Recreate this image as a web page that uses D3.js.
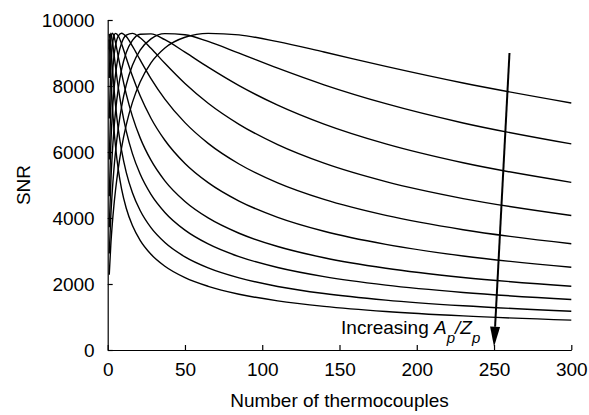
<!DOCTYPE html>
<html>
<head>
<meta charset="utf-8">
<script src="https://cdn.jsdelivr.net/npm/d3@7"></script>
<style>
  html, body { margin: 0; padding: 0; background: #fff; }
  svg { display: block; }
  text { font-family: "Liberation Sans", Arial, Helvetica, sans-serif; fill: #000; }
</style>
</head>
<body>
<svg id="chart" width="589" height="415"></svg>
<script>
// ---- data ----
const nValues = [1, 2, 3, 4, 5, 7, 9, 12, 16, 21, 28, 37, 50, 65, 85, 110, 140, 180, 230, 300];

const snr1  = [9411, 8325, 7417, 6731, 6198, 5420, 4877, 4297, 3771, 3324, 2901, 2538, 2193, 1930, 1691, 1489, 1322, 1167, 1033, 905];
const snr2  = [9582, 9222, 8559, 7957, 7445, 6642, 6044, 5385, 4766, 4227, 3707, 3256, 2822, 2488, 2185, 1926, 1711, 1512, 1339, 1174];
const snr3  = [9104, 9600, 9374, 8995, 8606, 7903, 7322, 6633, 5951, 5331, 4715, 4168, 3632, 3213, 2829, 2500, 2224, 1967, 1744, 1530];
const snr4  = [8245, 9374, 9599, 9523, 9332, 8855, 8382, 7755, 7080, 6428, 5752, 5126, 4501, 4002, 3538, 3135, 2795, 2477, 2199, 1932];
const snr5  = [7016, 8563, 9224, 9506, 9596, 9508, 9273, 8851, 8301, 7702, 7024, 6356, 5652, 5071, 4513, 4021, 3599, 3200, 2849, 2508];
const snr6  = [5773, 7418, 8326, 8871, 9207, 9528, 9600, 9498, 9208, 8790, 8226, 7604, 6890, 6262, 5637, 5065, 4563, 4079, 3645, 3220];
const snr7  = [4661, 6202, 7171, 7843, 8328, 8954, 9303, 9544, 9594, 9461, 9142, 8687, 8075, 7478, 6840, 6223, 5661, 5102, 4589, 4077];
const snr8  = [3720, 5063, 5976, 6660, 7194, 7974, 8503, 9013, 9382, 9570, 9580, 9404, 9025, 8570, 8011, 7420, 6845, 6245, 5673, 5081];
const snr9  = [2927, 4043, 4840, 5464, 5976, 6777, 7376, 8035, 8628, 9087, 9428, 9588, 9553, 9350, 8995, 8539, 8036, 7464, 6880, 6245];
const snr10 = [2278, 3177, 3836, 4369, 4819, 5552, 6134, 6821, 7505, 8122, 8700, 9152, 9477, 9596, 9548, 9345, 9029, 8593, 8090, 7486];

const allSeries = [snr1, snr2, snr3, snr4, snr5, snr6, snr7, snr8, snr9, snr10];

const xTicks = [0, 50, 100, 150, 200, 250, 300];
const yTicks = [0, 2000, 4000, 6000, 8000, 10000];

const arrowFrom = [260, 9000];
const arrowTo   = [250, 100];
const annotationPos = [151, 480];

// ---- layout ----
const svg = d3.select("#chart");
const x = d3.scaleLinear().domain([0, 300]).range([107.7, 571.3]);
const y = d3.scaleLinear().domain([0, 10000]).range([350, 20]);
const FS = 19;

// curves
const line = d3.line()
  .x((d, i) => x(nValues[i]))
  .y(d => y(d))
  .curve(d3.curveMonotoneX);

svg.append("g")
  .selectAll("path")
  .data(allSeries)
  .join("path")
  .attr("d", line)
  .attr("fill", "none")
  .attr("stroke", "#000")
  .attr("stroke-width", 1.4);

// x axis
const xAxis = d3.axisBottom(x).tickValues(xTicks).tickSizeInner(-5).tickSizeOuter(0).tickPadding(13);
const gx = svg.append("g").attr("transform", `translate(0,${y(0)})`).call(xAxis);
gx.select(".domain").attr("stroke", "#000").attr("stroke-width", 1.2);
gx.selectAll(".tick line").attr("stroke", "#000").attr("stroke-width", 1.2);
gx.selectAll(".tick text").attr("font-size", FS).attr("font-family", "Liberation Sans, Arial, sans-serif");

// y axis
const yAxis = d3.axisLeft(y).tickValues(yTicks).tickSizeInner(-5).tickSizeOuter(0).tickPadding(13).tickFormat(d3.format("d"));
const gy = svg.append("g").attr("transform", `translate(${x(0)},0)`).call(yAxis);
gy.select(".domain").attr("stroke", "#000").attr("stroke-width", 1.2);
gy.selectAll(".tick line").attr("stroke", "#000").attr("stroke-width", 1.2);
gy.selectAll(".tick text").attr("font-size", FS).attr("font-family", "Liberation Sans, Arial, sans-serif");

// axis titles
svg.append("text")
  .attr("x", (x(0) + x(300)) / 2)
  .attr("y", 407)
  .attr("text-anchor", "middle")
  .attr("font-size", FS)
  .text("Number of thermocouples");

svg.append("text")
  .attr("transform", `translate(30,${(y(0) + y(10000)) / 2}) rotate(-90)`)
  .attr("text-anchor", "middle")
  .attr("font-size", FS)
  .text("SNR");

// arrow
const x1 = x(arrowFrom[0]), y1 = y(arrowFrom[1]);
const x2 = x(arrowTo[0]), y2 = y(arrowTo[1]);
const dx = x2 - x1, dy = y2 - y1, len = Math.hypot(dx, dy);
const ux = dx / len, uy = dy / len;
const headLen = 20, headHalf = 5;
const bx = x2 - ux * headLen, by = y2 - uy * headLen;
svg.append("line")
  .attr("x1", x1).attr("y1", y1).attr("x2", bx).attr("y2", by)
  .attr("stroke", "#000").attr("stroke-width", 2);
svg.append("path")
  .attr("d", `M${x2},${y2}L${bx - uy * headHalf},${by + ux * headHalf}L${bx + uy * headHalf},${by - ux * headHalf}Z`)
  .attr("fill", "#000");

// annotation
const ann = svg.append("text")
  .attr("x", x(annotationPos[0]))
  .attr("y", y(annotationPos[1]))
  .attr("font-size", FS);
ann.append("tspan").text("Increasing ");
ann.append("tspan").attr("font-style", "italic").text("A");
ann.append("tspan").attr("font-style", "italic").attr("font-size", 15).attr("dy", 9).text("p");
ann.append("tspan").attr("font-style", "italic").attr("dy", -9).text("/Z");
ann.append("tspan").attr("font-style", "italic").attr("font-size", 15).attr("dy", 9).text("p");
</script>
</body>
</html>
